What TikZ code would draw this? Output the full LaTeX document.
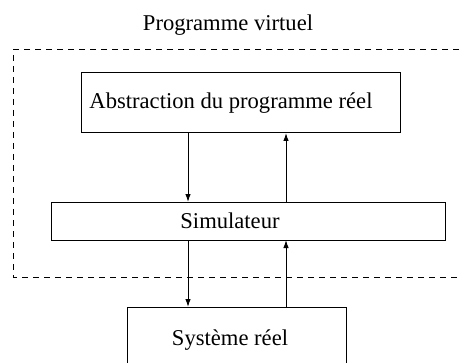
\documentclass[tikz,border=0pt]{standalone}
\usepackage{fontspec}
\setmainfont{Liberation Serif}
\usetikzlibrary{arrows.meta}
\begin{document}
\begin{tikzpicture}[x=1pt,y=-1pt,
  box/.style={draw,line width=1pt},
  lbl/.style={font=\fontsize{22.6}{26}\selectfont},
  arr/.style={line width=1pt,-{Latex[length=8pt,width=5.5pt]}}]
\useasboundingbox (0,0) rectangle (462,363);
\clip (0,0) rectangle (462,363);
\fill[white] (0,0) rectangle (462,363);
\node[lbl] (title) at (228,25) {Programme virtuel};
\draw[line width=1pt,dash pattern=on 6pt off 5pt] (470,50) -- (13,50) -- (13,277) -- (470,277);
\draw[box] (81,73) rectangle (400,133);
\coordinate (absL) at (188,133);
\coordinate (absR) at (286,133);
\node[lbl] (abstxt) at (231,103) {Abstraction du programme réel};
\draw[box] (51,202) rectangle (445,240);
\node[lbl] (sim) at (230,221) {Simulateur};
\coordinate (simTL) at (188,202);
\coordinate (simTR) at (286,202);
\coordinate (simBL) at (188,240);
\coordinate (simBR) at (286,240);
\draw[box] (127,307) rectangle (346,375);
\node[lbl] (sys) at (230,340) {Système réel};
\coordinate (sysL) at (188,307);
\coordinate (sysR) at (286,307);
\draw[arr] (absL) -- (simTL);
\draw[arr] (simTR) -- (absR);
\draw[arr] (simBL) -- (sysL);
\draw[arr] (sysR) -- (simBR);
\end{tikzpicture}
\end{document}
